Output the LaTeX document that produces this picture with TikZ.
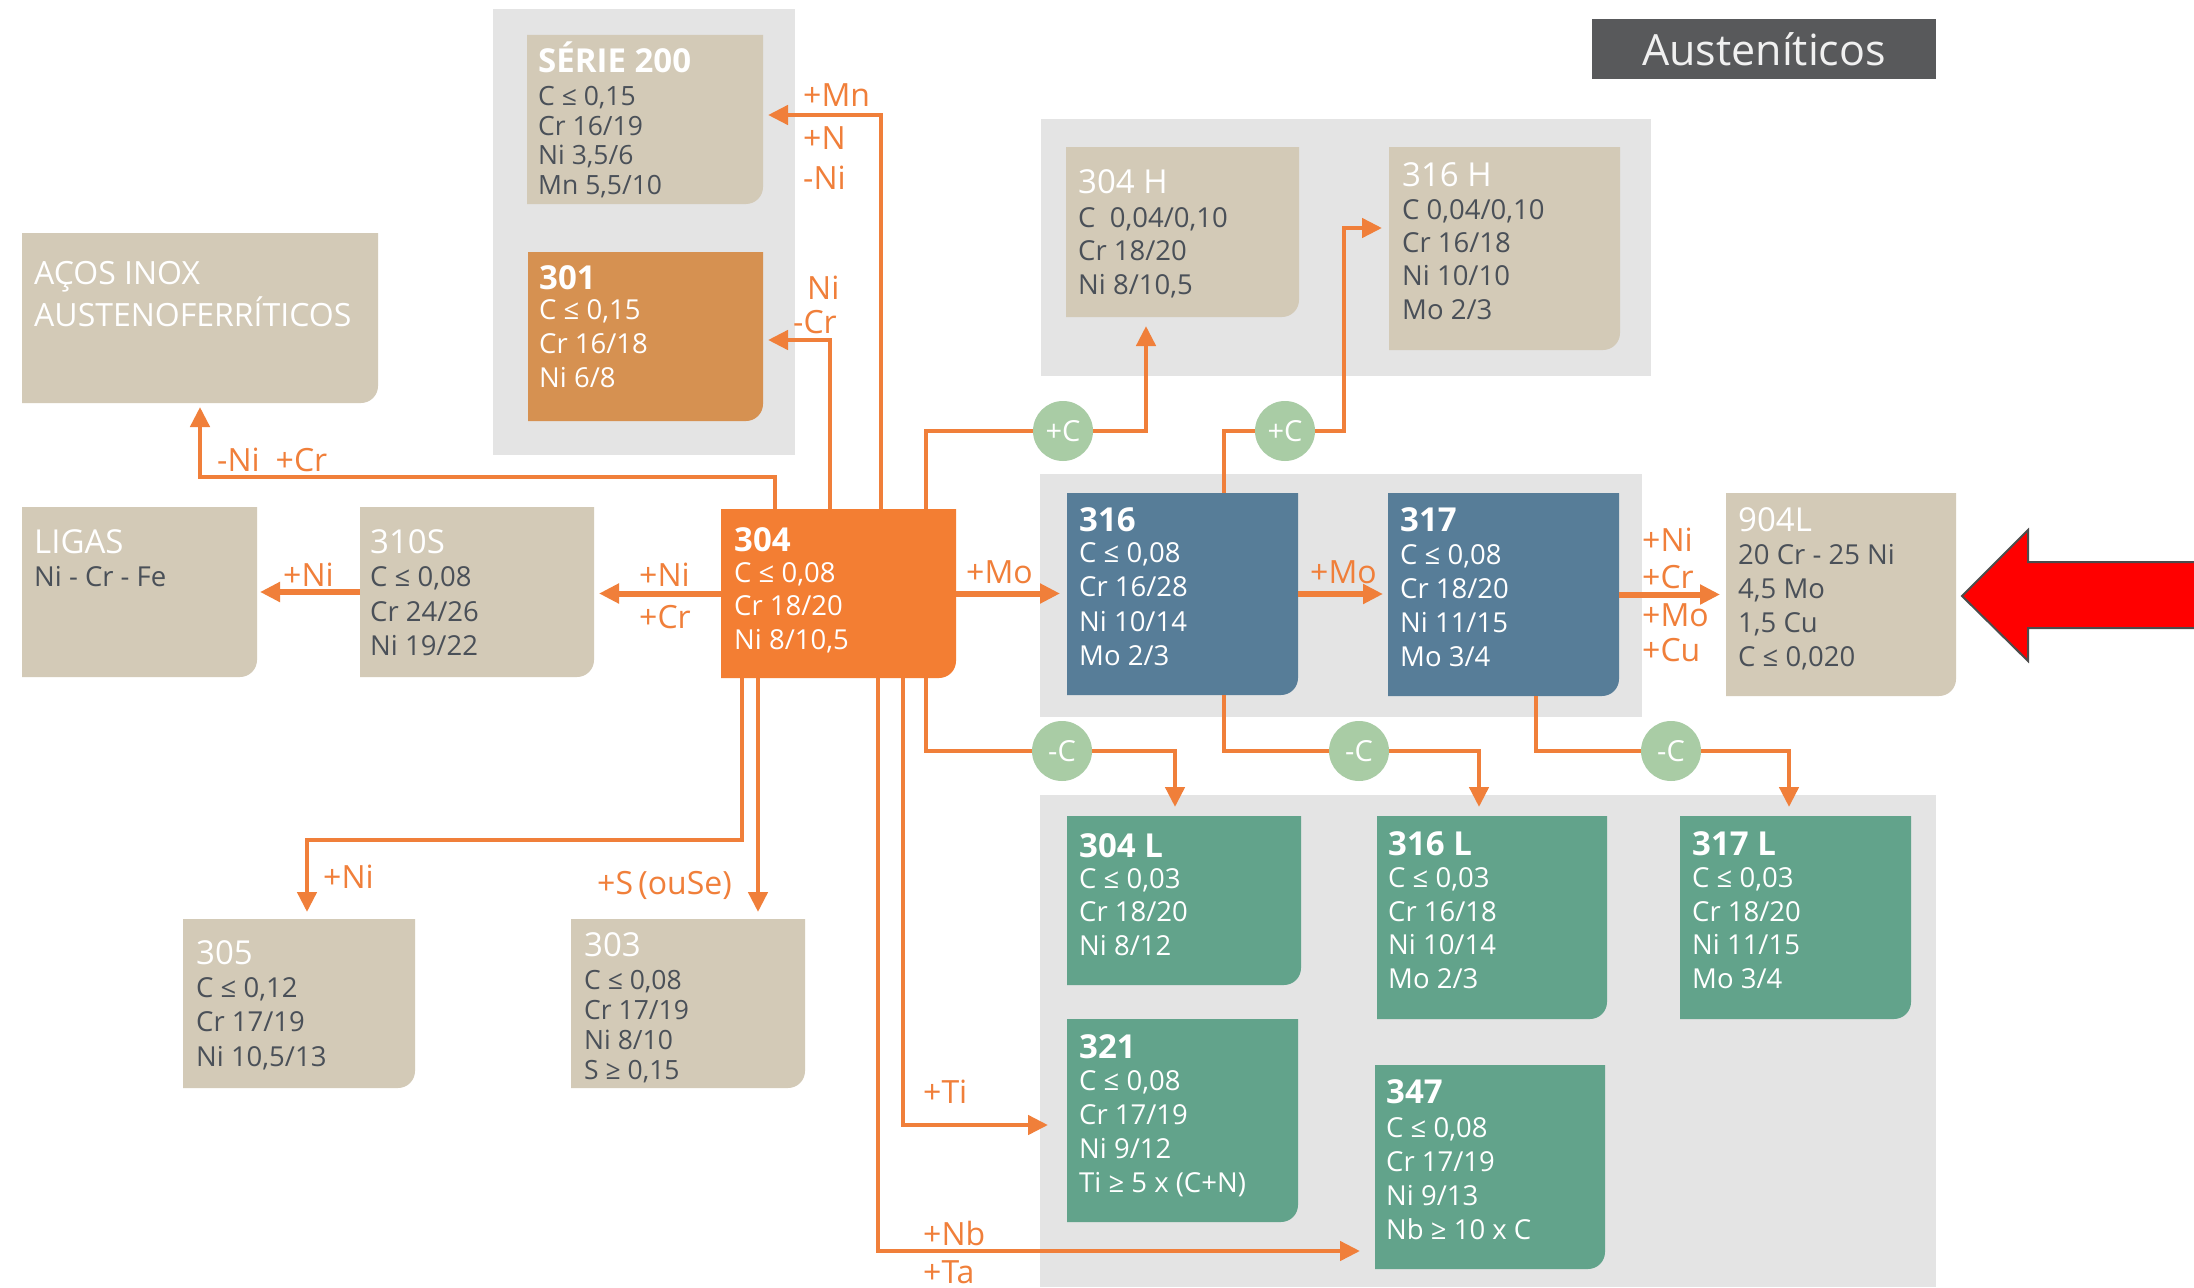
\documentclass[tikz,border=0pt]{standalone}
\usepackage{fontspec}
\setmainfont{Open Sans}
\usetikzlibrary{arrows.meta,calc}
\definecolor{orng}{HTML}{F07F3A}
\definecolor{box304}{HTML}{F37E33}
\definecolor{box301}{HTML}{D69151}
\definecolor{beige}{HTML}{D3CAB7}
\definecolor{panel}{HTML}{E4E4E4}
\definecolor{blu}{HTML}{577D98}
\definecolor{grn}{HTML}{62A38B}
\definecolor{cgrn}{HTML}{A9CCA5}
\definecolor{dtext}{HTML}{4A5058}
\definecolor{ttlgray}{HTML}{58595B}
\newcommand\txtblock[1]{\begin{tabular}[t]{@{}l@{}}#1\end{tabular}}
\newcommand\ttlb[1]{{\fontsize{33}{34}\selectfont\bfseries\color{white}#1}}
\newcommand\ttlr[1]{{\fontsize{33}{34}\selectfont\color{white}#1}}
\newcommand\mkbox[6]{%
  \node[inner sep=0, outer sep=0, minimum width={(#4)-(#2)}, minimum height={(#5)-(#3)}] (#1) at ({((#2)+(#4))/2},{((#3)+(#5))/2}) {};
  \fill[#6] (#1.north west) -- (#1.north east) -- ([yshift=17pt]#1.south east) arc[start angle=0,end angle=-90,radius=17pt] -- (#1.south west) -- cycle;}
\tikzset{
 conn/.style={draw=orng, line width=4.5pt, -{Triangle[length=20pt,width=19pt]}},
 connthick/.style={conn, line width=6pt},
 plainln/.style={draw=orng, line width=4.5pt},
 lbl/.style={anchor=west, inner sep=0, text=orng, font=\fontsize{32}{33}\selectfont},
 tx/.style={anchor=base west, inner sep=0, text=dtext},
 txw/.style={tx, text=white},
 circ/.style={circle, fill=cgrn, minimum size=60pt, inner sep=0, text=white, font=\fontsize{29}{30}\selectfont},
}
\begin{document}
\begin{tikzpicture}[x=1pt,y=-1pt]
\useasboundingbox (0,0) rectangle (2194,1287);
\fill[white] (0,0) rectangle (2194,1287);
% panels
\fill[panel] (493,9) rectangle (795,455);
\fill[panel] (1041,119) rectangle (1651,376);
\fill[panel] (1040,474) rectangle (1642,717);
\fill[panel] (1040,795) rectangle (1936,1287);
% boxes
\mkbox{s200}{527}{35}{763}{204}{beige}
\mkbox{n301}{528}{252}{763}{421}{box301}
\mkbox{acos}{22}{233}{378}{403}{beige}
\mkbox{ligas}{22}{507}{257}{677}{beige}
\mkbox{n310}{360}{507}{594}{677}{beige}
\mkbox{n304}{721}{509}{956}{678}{box304}
\mkbox{n305}{183}{919}{415}{1088}{beige}
\mkbox{n303}{571}{919}{805}{1088}{beige}
\mkbox{n304h}{1066}{147}{1299}{317}{beige}
\mkbox{n316h}{1389}{147}{1620}{350}{beige}
\mkbox{n316}{1067}{493}{1298}{695}{blu}
\mkbox{n317}{1388}{493}{1619}{696}{blu}
\mkbox{n904}{1726}{493}{1956}{696}{beige}
\mkbox{n304l}{1067}{816}{1301}{985}{grn}
\mkbox{n316l}{1377}{816}{1607}{1019}{grn}
\mkbox{n317l}{1680}{816}{1911}{1019}{grn}
\mkbox{n321}{1067}{1019}{1298}{1222}{grn}
\mkbox{n347}{1375}{1065}{1605}{1269}{grn}
% circles
\node[circ] (cp1) at (1063,431) {+C};
\node[circ] (cp2) at (1285,431) {+C};
\node[circ] (cm1) at (1062,751) {-C};
\node[circ] (cm2) at (1359,751) {-C};
\node[circ] (cm3) at (1671,751) {-C};
% helper coordinates
\coordinate (x742) at (742,0);
\coordinate (x758) at (758,0);
\coordinate (x775) at (775,0);
\coordinate (x830) at (830,0);
\coordinate (x881) at (881,0);
\coordinate (x878) at (878,0);
\coordinate (x903) at (903,0);
\coordinate (x926) at (926,0);
\coordinate (x1224) at (1224,0);
\coordinate (x1536) at (1536,0);
\coordinate (b316h) at (1344,228);
% connectors
\draw[conn, shorten >=5pt] (n304.north -| x881) |- ([yshift=4.5pt]s200.east);
\draw[conn, shorten >=5pt] (n304.north -| x830) |- ([yshift=-3.5pt]n301.east);
\draw[conn] (n304.north -| x775) |- ($(acos.south)+(0,74)$) -- ([yshift=-4pt]acos.south);
\draw[connthick, shorten >=5pt] (n304.west) -- (n304.west -| n310.east);
\draw[connthick, shorten >=3pt] (n310.west) -- (n310.west -| ligas.east);
\draw[connthick, shorten >=7pt] (n304.east) -- (n304.east -| n316.west);
\draw[connthick, shorten >=5pt] (n316.east) -- (n316.east -| n317.west);
\draw[connthick, shorten >=6pt] (n317.east) -- (n317.east -| n904.west);
\draw[plainln] (n304.north -| x926) |- (cp1.west);
\draw[conn, shorten >=9pt] (cp1.east) -| ([xshift=-36.5pt]n304h.south);
\draw[plainln] (n316.north -| x1224) |- (cp2.west);
\draw[conn, shorten >=7pt] (cp2.east) -| (b316h) -- (b316h -| n316h.west);
\draw[plainln] (n304.south -| x926) |- (cm1.west);
\draw[conn, shorten >=9pt] (cm1.east) -| ([xshift=-9pt]n304l.north);
\draw[plainln] (n316.south -| x1224) |- (cm2.west);
\draw[conn, shorten >=9pt] (cm2.east) -| ([xshift=-13pt]n316l.north);
\draw[plainln] (n317.south -| x1536) |- (cm3.west);
\draw[conn, shorten >=9pt] (cm3.east) -| ([xshift=-6.5pt]n317l.north);
\draw[conn, shorten >=7pt] (n304.south -| x742) -- ++(0,162) -| ([xshift=8pt]n305.north);
\draw[conn, shorten >=7pt] (n304.south -| x758) -- (x758 |- n303.north);
\draw[conn, shorten >=19pt] (n304.south -| x903) |- ([yshift=-4.5pt]n321.west);
\draw[conn, shorten >=15pt] (n304.south -| x878) |- ([yshift=-84pt]n347.west);
% box texts
\node[tx, font=\fontsize{26.5}{29.5}\selectfont] (s200t) at (538,73) {\txtblock{\ttlb{SÉRIE 200}\\[3.5pt] C ≤ 0,15\\ Cr 16/19\\ Ni 3,5/6\\ Mn 5,5/10}};
\node[txw, font=\fontsize{27.5}{34}\selectfont] (n301t) at (539,289) {\txtblock{\ttlb{301}\\[-3.7pt] C ≤ 0,15\\ Cr 16/18\\ Ni 6/8}};
\node[txw, font=\fontsize{32}{41}\selectfont] (acost) at (34,284) {\txtblock{AÇOS INOX\\ AUSTENOFERRÍTICOS}};
\node[tx, font=\fontsize{27.5}{34}\selectfont] (ligast) at (34,553) {\txtblock{\ttlr{LIGAS}\\[-0.7pt] Ni - Cr - Fe}};
\node[tx, font=\fontsize{27.5}{34.5}\selectfont] (n310t) at (370,553) {\txtblock{\ttlr{310S}\\[-0.7pt] C ≤ 0,08\\ Cr 24/26\\ Ni 19/22}};
\node[txw, font=\fontsize{27.5}{33.5}\selectfont] (n304t) at (734,551) {\txtblock{\ttlb{304}\\[-2.2pt] C ≤ 0,08\\ Cr 18/20\\ Ni 8/10,5}};
\node[txw, font=\fontsize{27.5}{34.5}\selectfont] (n316t) at (1079,531) {\txtblock{\ttlb{316}\\[-3.2pt] C ≤ 0,08\\ Cr 16/28\\ Ni 10/14\\ Mo 2/3}};
\node[txw, font=\fontsize{27.5}{34}\selectfont] (n317t) at (1400,531) {\txtblock{\ttlb{317}\\[-0.7pt] C ≤ 0,08\\ Cr 18/20\\ Ni 11/15\\ Mo 3/4}};
\node[tx, font=\fontsize{27.5}{34}\selectfont] (n904t) at (1738,531) {\txtblock{\ttlr{904L}\\[-0.7pt] 20 Cr - 25 Ni\\ 4,5 Mo\\ 1,5 Cu\\ C ≤ 0,020}};
\node[tx, font=\fontsize{27.5}{33.5}\selectfont] (n304ht) at (1078,193) {\txtblock{\ttlr{304 H}\\[0.8pt] C\ \ 0,04/0,10\\ Cr 18/20\\ Ni 8/10,5}};
\node[tx, font=\fontsize{27.5}{33.3}\selectfont] (n316ht) at (1402,186) {\txtblock{\ttlr{316 H}\\ C 0,04/0,10\\ Cr 16/18\\ Ni 10/10\\ Mo 2/3}};
\node[tx, font=\fontsize{27.5}{34.5}\selectfont] (n305t) at (196,964) {\txtblock{\ttlr{305}\\[-1.2pt] C ≤ 0,12\\ Cr 17/19\\ Ni 10,5/13}};
\node[tx, font=\fontsize{26.5}{30}\selectfont] (n303t) at (584,956) {\txtblock{\ttlr{303}\\[3.3pt] C ≤ 0,08\\ Cr 17/19\\ Ni 8/10\\ S ≥ 0,15}};
\node[txw, font=\fontsize{27.5}{33.5}\selectfont] (n304lt) at (1079,857) {\txtblock{\ttlb{304 L}\\[-2.2pt] C ≤ 0,03\\ Cr 18/20\\ Ni 8/12}};
\node[txw, font=\fontsize{27.5}{33.7}\selectfont] (n316lt) at (1388,855) {\txtblock{\ttlb{316 L}\\[-1.4pt] C ≤ 0,03\\ Cr 16/18\\ Ni 10/14\\ Mo 2/3}};
\node[txw, font=\fontsize{27.5}{33.7}\selectfont] (n317lt) at (1692,855) {\txtblock{\ttlb{317 L}\\[-1.4pt] C ≤ 0,03\\ Cr 18/20\\ Ni 11/15\\ Mo 3/4}};
\node[txw, font=\fontsize{27.5}{34}\selectfont] (n321t) at (1079,1058) {\txtblock{\ttlb{321}\\[-1.7pt] C ≤ 0,08\\ Cr 17/19\\ Ni 9/12\\ Ti ≥ 5 x (C+N)}};
\node[txw, font=\fontsize{27.5}{34}\selectfont] (n347t) at (1386,1103) {\txtblock{\ttlb{347}\\[0.3pt] C ≤ 0,08\\ Cr 17/19\\ Ni 9/13\\ Nb ≥ 10 x C}};
% labels
\node[lbl] (lMn) at (803,95) {+Mn};
\node[lbl] (lN) at (803,138) {+N};
\node[lbl] (lNiA) at (803,178) {-Ni};
\node[lbl] (lNiB) at (807,288) {Ni};
\node[lbl] (lCrA) at (793,322) {-Cr};
\node[lbl] (lNiCr) at (217,460) {-Ni\hspace{16pt}+Cr};
\node[lbl] (lNiC) at (283,575) {+Ni};
\node[lbl] (lNiD) at (639,575) {+Ni};
\node[lbl] (lCrB) at (639,617) {+Cr};
\node[lbl] (lMoA) at (966,572) {+Mo};
\node[lbl] (lMoB) at (1310,572) {+Mo};
\node[lbl] (lNiE) at (1642,540) {+Ni};
\node[lbl] (lCrC) at (1642,577) {+Cr};
\node[lbl] (lMoC) at (1642,615) {+Mo};
\node[lbl] (lCu) at (1642,650) {+Cu};
\node[lbl] (lNiF) at (323,877) {+Ni};
\node[lbl] (lS) at (597,885) {+S\,(ouSe)};
\node[lbl] (lTi) at (923,1092) {+Ti};
\node[lbl] (lNb) at (923,1233) {+Nb};
\node[lbl] (lTa) at (923,1272) {+Ta};
% title
\node[fill=ttlgray, minimum width=344pt, minimum height=60pt, inner sep=0, text=white!94!black, font=\fontsize{43}{45}\selectfont] (ttl) at (1764,49) {Austeníticos};
% red arrow
\draw[fill=red, draw=black!70, line width=2pt] (1962,596) -- (2028,530) -- (2028,562) -- (2200,562) -- (2200,628) -- (2028,628) -- (2028,661) -- cycle;
\end{tikzpicture}
\end{document}
